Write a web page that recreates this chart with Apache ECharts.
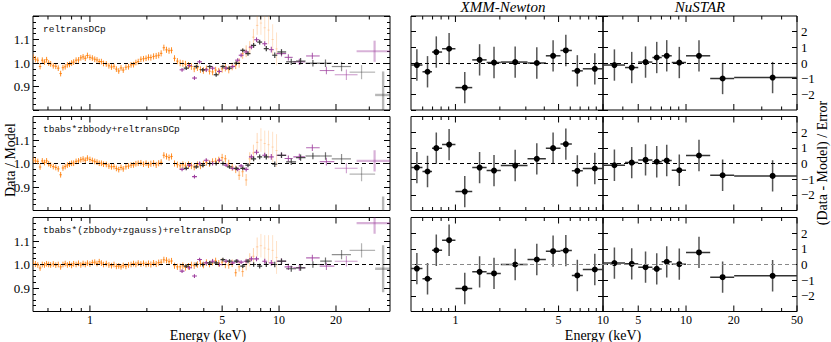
<!DOCTYPE html>
<html>
<head>
<meta charset="utf-8">
<script src="https://cdn.jsdelivr.net/npm/echarts@6.0.0/dist/echarts.min.js"></script>
<style>
  html, body { margin: 0; padding: 0; background: #fff; }
  #chart { width: 831px; height: 342px; }
</style>
</head>
<body>
<div id="chart"></div>
<script>
// XMM pn ratio data (energy keV, ratio per model, 1-sigma error)
var pnE = [0.50,0.515,0.53,0.545,0.56,0.575,0.59,0.605,0.62,0.64,
  0.66,0.68,0.70,0.72,0.74,0.76,0.78,0.80,0.82,0.845,
  0.87,0.895,0.92,0.945,0.97,1.00,1.03,1.06,1.09,1.12,
  1.15,1.18,1.22,1.26,1.30,1.34,1.38,1.42,1.46,1.50,
  1.55,1.60,1.65,1.70,1.75,1.80,1.86,1.92,1.98,2.04,
  2.10,2.17,2.24,2.31,2.38,2.46,2.54,2.62,2.70,2.80,
  2.90,3.00,3.10,3.20,3.32,3.44,3.56,3.70,3.84,3.98,
  4.13,4.29,4.45,4.62,4.80,5.00,5.20,5.42,5.65,5.90,
  6.15,6.42,6.70,7.00,7.32,7.66,8.02,8.40,8.80,9.25,
  9.70];
var pnErr = [0.013,0.013,0.012,0.012,0.012,0.012,0.012,0.012,0.012,0.012,
  0.012,0.012,0.012,0.012,0.012,0.012,0.012,0.012,0.012,0.012,
  0.012,0.012,0.012,0.012,0.012,0.012,0.012,0.012,0.012,0.012,
  0.012,0.012,0.012,0.012,0.012,0.012,0.012,0.012,0.012,0.012,
  0.012,0.012,0.012,0.012,0.012,0.012,0.012,0.012,0.012,0.013,
  0.013,0.013,0.013,0.013,0.013,0.013,0.013,0.013,0.013,0.013,
  0.013,0.014,0.014,0.014,0.014,0.014,0.014,0.014,0.014,0.014,
  0.014,0.014,0.014,0.014,0.014,0.016,0.016,0.016,0.016,0.016,
  0.020,0.022,0.025,0.028,0.035,0.040,0.050,0.055,0.060,0.065,
  0.070];
var pnRatio1 = [1.025,1.016,1.012,0.985,1.012,1.004,1.014,1.000,0.996,0.988,
  0.986,0.978,0.955,0.980,0.984,0.992,0.994,1.000,1.004,1.012,
  1.013,1.022,1.026,1.020,1.032,1.024,1.021,1.016,1.013,1.006,
  1.006,0.998,0.996,0.988,0.983,0.986,0.974,0.966,0.979,0.970,
  0.982,0.984,0.992,0.993,1.002,1.006,1.016,1.018,1.020,1.024,
  1.023,1.028,1.030,1.033,1.041,1.065,1.056,1.052,1.054,1.020,
  1.008,1.000,0.998,0.995,0.990,0.985,0.975,0.980,0.972,0.968,
  0.975,0.965,0.962,0.970,0.965,0.975,0.980,0.972,0.985,0.990,
  1.000,1.040,1.050,1.065,1.110,1.160,1.170,1.150,1.140,1.100,
  1.060];
var pnRatio2 = [1.015,1.011,1.009,0.985,1.011,1.004,1.011,0.999,0.993,0.987,
  0.983,0.977,0.952,0.981,0.987,0.993,0.997,1.001,1.001,1.009,
  1.011,1.016,1.019,1.014,1.023,1.017,1.013,1.009,1.006,1.001,
  1.001,0.997,0.996,0.989,0.986,0.987,0.979,0.974,0.983,0.977,
  0.986,0.989,0.993,0.994,0.999,1.001,1.003,0.997,1.001,0.994,
  0.999,1.001,0.994,1.001,1.005,1.035,1.030,1.025,1.030,1.000,
  0.995,0.990,0.995,0.990,0.995,0.990,0.985,0.995,0.990,0.998,
  1.005,1.000,1.008,1.010,1.015,1.025,1.020,1.000,0.985,0.975,
  0.950,0.965,0.930,1.020,1.045,1.090,1.100,1.085,1.080,1.070,
  1.055];
var pnRatio3 = [1.005,1.002,0.998,0.985,1.000,0.998,1.003,1.000,0.998,1.002,
  0.997,1.000,0.990,1.000,1.004,0.998,1.002,0.996,1.003,1.000,
  1.005,0.998,1.004,1.000,1.006,1.002,1.008,1.010,1.004,1.012,
  1.006,1.000,1.004,0.998,0.995,1.000,0.992,0.994,0.990,0.996,
  0.992,0.998,1.000,1.004,1.000,1.006,1.002,1.005,1.000,1.004,
  1.000,1.006,1.002,1.008,1.010,1.020,1.018,1.012,1.015,0.995,
  0.990,0.990,0.995,0.988,0.992,0.998,0.995,1.000,1.005,0.998,
  1.008,1.002,1.010,1.015,1.005,1.010,1.000,0.998,1.005,0.965,
  0.990,0.970,1.000,1.020,1.035,1.075,1.080,1.070,1.065,1.060,
  1.030];

// NuSTAR FPMA (purple)
var faE  = [3.07,3.36,3.57,3.80,4.12,4.45,4.84,5.25,5.69,6.04,6.30,6.70,7.14,7.60,8.40,9.10,10.3,11.2,12.8,15.0,17.8,22.7,32.0];
var faLo = [2.98,3.26,3.47,3.69,4.00,4.32,4.70,5.10,5.52,5.86,6.12,6.50,6.93,7.38,8.15,8.83,9.7,10.7,11.9,13.9,16.4,19.7,25.7];
var faHi = [3.16,3.46,3.68,3.91,4.24,4.58,4.98,5.40,5.86,6.22,6.49,6.90,7.35,7.83,8.65,9.37,10.9,11.8,13.7,16.4,19.6,26.0,40.0];
var faErr = [0.008,0.008,0.008,0.008,0.008,0.008,0.008,0.008,0.008,0.008,0.008,0.009,0.010,0.010,0.011,0.012,0.012,0.013,0.013,0.014,0.016,0.022,0.045];
var faRatio1 = [0.971,0.989,0.936,1.005,0.971,0.978,0.964,0.978,0.985,1.012,1.033,1.047,1.068,1.099,1.082,1.057,1.040,1.024,1.005,1.030,0.968,0.950,1.050];
var faRatio2 = [0.975,0.993,0.944,1.000,1.014,1.000,1.014,0.993,0.979,0.975,0.990,0.975,1.028,1.048,1.035,1.028,1.035,1.021,1.028,1.067,1.008,0.980,1.011];
var faRatio3 = [0.972,0.986,0.951,1.021,1.007,1.014,1.000,1.014,1.007,1.014,1.010,1.014,1.024,1.024,1.014,1.007,1.014,0.990,0.986,1.028,0.993,1.014,1.176];

// NuSTAR FPMB (grey)
var fbE  = [3.23,3.65,3.95,4.30,4.65,5.05,5.47,5.94,6.43,6.85,7.34,7.90,8.56,9.49,10.3,11.6,13.0,15.1,17.6,21.4,27.3,35.5];
var fbLo = [3.13,3.54,3.83,4.17,4.51,4.90,5.30,5.76,6.24,6.64,7.12,7.66,8.30,9.20,9.8,10.9,12.3,13.8,16.5,19.0,23.6,32.2];
var fbHi = [3.33,3.76,4.07,4.43,4.79,5.20,5.63,6.12,6.62,7.06,7.56,8.14,8.82,9.78,10.9,12.3,13.8,16.5,19.0,24.0,32.2,40.0];
var fbErr = [0.008,0.008,0.008,0.008,0.008,0.008,0.008,0.008,0.008,0.009,0.010,0.010,0.011,0.012,0.012,0.013,0.013,0.014,0.016,0.020,0.030,0.100];
var fbRatio1 = [0.978,0.985,0.971,0.985,0.950,0.985,0.978,0.999,1.054,1.040,1.075,1.089,1.061,1.033,1.047,1.005,1.008,0.999,0.999,0.985,0.961,0.864];
var fbRatio2 = [0.979,0.986,0.992,1.000,1.000,1.000,0.986,0.979,0.979,0.993,1.020,1.028,1.028,0.997,1.035,1.007,1.025,1.032,1.032,1.020,0.955,0.760];
var fbRatio3 = [0.993,1.000,1.000,1.007,1.007,1.021,1.014,1.014,0.993,1.014,1.000,0.993,1.000,1.000,1.014,0.982,0.986,1.000,1.014,1.042,1.060,0.982];

// residuals (Data - Model) / Error, re-binned
var xmmE  = [0.548,0.647,0.742,0.906,1.157,1.458,1.826,2.54,3.56,4.59,5.6,6.7,8.8];
var xmmLo = [0.5,0.598,0.694,0.812,1.0,1.3,1.627,2.03,3.08,4.1,5.15,6.15,7.3];
var xmmHi = [0.598,0.694,0.812,1.0,1.3,1.627,2.03,3.08,4.1,5.15,6.15,7.3,10.0];
var xmmRes1 = [-0.13,-0.56,0.70,0.91,-1.57,0.20,0.03,0.06,0.00,0.46,0.80,-0.50,-0.37];
var xmmRes2 = [-0.26,-0.51,0.98,1.21,-1.79,-0.26,-0.45,-0.13,0.30,0.98,1.24,-0.47,-0.32];
var xmmRes3 = [-0.26,-0.91,0.91,1.55,-1.53,-0.47,-0.57,0.00,0.32,0.85,0.89,-0.70,-0.32];

var nuE  = [3.54,4.55,5.56,6.54,7.56,9.07,12.07,17.0,35.1];
var nuLo = [3.0,4.13,5.0,6.14,7.03,8.13,10.0,14.2,20.1];
var nuHi = [4.13,5.0,6.14,7.03,8.13,10.0,14.2,20.1,50.0];
var nuRes1 = [-0.13,-0.29,0.06,0.35,0.46,0.03,0.46,-0.99,-0.93];
var nuRes2 = [-0.11,0.06,0.23,0.11,0.19,-0.43,0.51,-0.75,-0.79];
var nuRes3 = [0.09,0.04,-0.17,-0.28,0.17,0.02,0.77,-0.81,-0.72];
var resErr = 1.0;

// tick values
var leftMajor = [1, 5, 10, 20];
var leftMinor = [0.6, 0.7, 0.8, 0.9, 2, 3, 4, 6, 7, 8, 9, 30];
var xmmMajor = [1, 5, 10];
var xmmMinor = [0.6, 0.7, 0.8, 0.9, 2, 3, 4, 6, 7, 8, 9];
var nuMajor = [5, 10, 20, 50];
var nuMinor = [4, 6, 7, 8, 9, 30, 40];

var modelNames = ['reltransDCp', 'tbabs*zbbody+reltransDCp', 'tbabs*(zbbody+zgauss)+reltransDCp'];

var chart = echarts.init(document.getElementById('chart'), null, { renderer: 'svg' });
var serif = 'Liberation Serif';
var mono = 'Liberation Mono';

var pnRatio = [pnRatio1, pnRatio2, pnRatio3];
var faRatio = [faRatio1, faRatio2, faRatio3];
var fbRatio = [fbRatio1, fbRatio2, fbRatio3];
var xmmRes = [xmmRes1, xmmRes2, xmmRes3];
var nuRes = [nuRes1, nuRes2, nuRes3];

var rowTop = [16, 116.5, 217.5], rowH = 94;
var cols = [
  { left: 33, width: 357, min: 0.5, max: 38.6, major: leftMajor, minor: leftMinor },
  { left: 411, width: 192, min: 0.5, max: 10, major: xmmMajor, minor: xmmMinor },
  { left: 603, width: 194, min: 3, max: 50, major: nuMajor, minor: nuMinor }
];

// cross-shaped error bars, fainter (and a bit wider) when the error is large
function errBars(color, errRef, maxOp, minOp, width, wideErr) {
  return function (params, api) {
    var e = api.value(0), v = api.value(1), lo = api.value(2), hi = api.value(3), err = api.value(4);
    var a = api.coord([e, v + err]), b = api.coord([e, v - err]);
    var c = api.coord([lo, v]), d = api.coord([hi, v]);
    var op = Math.max(minOp, Math.min(maxOp, errRef / err));
    var w = (wideErr && err >= wideErr) ? width * 2 : width;
    var st = { stroke: color, lineWidth: w, opacity: op };
    return {
      type: 'group',
      children: [
        { type: 'line', shape: { x1: a[0], y1: a[1], x2: b[0], y2: b[1] }, style: st },
        { type: 'line', shape: { x1: c[0], y1: c[1], x2: d[0], y2: d[1] }, style: st }
      ]
    };
  };
}

function resItem(params, api) {
  var e = api.value(0), v = api.value(1), lo = api.value(2), hi = api.value(3), err = api.value(4);
  var a = api.coord([e, v + err]), b = api.coord([e, v - err]);
  var c = api.coord([lo, v]), d = api.coord([hi, v]);
  var p = api.coord([e, v]);
  return {
    type: 'group',
    children: [
      { type: 'line', shape: { x1: a[0], y1: a[1], x2: b[0], y2: b[1] }, style: { stroke: '#555', lineWidth: 1.5 } },
      { type: 'line', shape: { x1: c[0], y1: c[1], x2: d[0], y2: d[1] }, style: { stroke: '#333', lineWidth: 1.5 } },
      { type: 'circle', shape: { cx: p[0], cy: p[1], r: 3 }, style: { fill: '#000' } }
    ]
  };
}

function tickItem(showLabel) {
  return function (params, api) {
    var cs = params.coordSys;
    var x = api.coord([api.value(0), 1])[0];
    var major = api.value(1) === 1;
    var len = major ? 6 : 3.5;
    var yb = cs.y + cs.height;
    var kids = [
      { type: 'line', shape: { x1: x, y1: yb, x2: x, y2: yb - len }, style: { stroke: '#000', lineWidth: 1 } },
      { type: 'line', shape: { x1: x, y1: cs.y, x2: x, y2: cs.y + len }, style: { stroke: '#000', lineWidth: 1 } }
    ];
    if (showLabel && major) {
      kids.push({ type: 'text', x: x, y: yb + 2,
        style: { text: String(api.value(0)), fill: '#000', fontFamily: serif, fontSize: 12,
          align: 'center', verticalAlign: 'top' } });
    }
    return { type: 'group', children: kids };
  };
}

function dashLine(y, color) {
  return {
    silent: true, symbol: ['none', 'none'], label: { show: false },
    lineStyle: { color: color, type: [4, 3], width: 1 },
    data: [{ yAxis: y }]
  };
}

var grids = [], xAxes = [], yAxes = [], series = [];

for (var r = 0; r < 3; r++) {
  for (var c = 0; c < 3; c++) {
    var g = r * 3 + c;
    var col = cols[c];
    grids.push({ left: col.left, top: rowTop[r], width: col.width, height: rowH,
      show: true, borderColor: '#000', borderWidth: 1, backgroundColor: 'transparent' });
    xAxes.push({ type: 'log', logBase: 10, gridIndex: g, min: col.min, max: col.max,
      axisLine: { show: false }, axisTick: { show: false }, axisLabel: { show: false },
      splitLine: { show: false } });

    ['left', 'right'].forEach(function (side) {
      if (c === 0) {
        yAxes.push({ type: 'value', gridIndex: g, position: side, min: 0.8, max: 1.2, interval: 0.1,
          axisLine: { show: false }, splitLine: { show: false },
          axisTick: { inside: true, length: 6, lineStyle: { color: '#000' } },
          minorTick: { show: true, splitNumber: 4, length: 3, lineStyle: { color: '#000' } },
          minorSplitLine: { show: false },
          axisLabel: { show: side === 'left', showMinLabel: false, showMaxLabel: false, margin: 3,
            fontFamily: serif, fontSize: 13, color: '#000',
            formatter: function (v) { return v.toFixed(1); } } });
      } else {
        yAxes.push({ type: 'value', gridIndex: g, position: side, min: -3, max: 3, interval: 1,
          axisLine: { show: false }, splitLine: { show: false },
          axisTick: { inside: true, length: 5, lineStyle: { color: '#000' } },
          axisLabel: { show: c === 2 && side === 'right', showMinLabel: false, showMaxLabel: false, margin: 4,
            fontFamily: serif, fontSize: 13, color: '#000',
            formatter: function (v) { return v < 0 ? '\u2212' + Math.abs(v) : String(v); } } });
      }
    });

    var ticks = col.major.map(function (v) { return [v, 1]; })
      .concat(col.minor.map(function (v) { return [v, 0]; }));
    series.push({ type: 'custom', xAxisIndex: g, yAxisIndex: 2 * g, clip: false, silent: true,
      renderItem: tickItem(r === 2), data: ticks, z: 5 });

    if (c === 0) {
      var pr = pnRatio[r], ar = faRatio[r], br = fbRatio[r];
      series.push({ type: 'custom', xAxisIndex: g, yAxisIndex: 2 * g, clip: true,
        renderItem: errBars('#ff7a00', 0.011, 0.85, 0.22, 1, 0),
        data: pnE.map(function (e, i) { return [e, pr[i], e * 0.985, e * 1.015, pnErr[i]]; }),
        markLine: dashLine(1, '#000') });
      series.push({ type: 'custom', xAxisIndex: g, yAxisIndex: 2 * g, clip: true,
        renderItem: errBars('#9e3e9e', 0.011, 1, 0.4, 1.1, 0.04),
        data: faE.map(function (e, i) { return [e, ar[i], faLo[i], faHi[i], faErr[i]]; }) });
      series.push({ type: 'custom', xAxisIndex: g, yAxisIndex: 2 * g, clip: true,
        renderItem: errBars('#333333', 0.011, 1, 0.35, 1.2, 0.05),
        data: fbE.map(function (e, i) { return [e, br[i], fbLo[i], fbHi[i], fbErr[i]]; }) });
    } else {
      var E = c === 1 ? xmmE : nuE, lo = c === 1 ? xmmLo : nuLo, hi = c === 1 ? xmmHi : nuHi;
      var res = c === 1 ? xmmRes[r] : nuRes[r];
      series.push({ type: 'custom', xAxisIndex: g, yAxisIndex: 2 * g, clip: true,
        renderItem: resItem,
        data: E.map(function (e, i) { return [e, res[i], lo[i], hi[i], resErr]; }),
        markLine: dashLine(0, r === 2 ? '#888' : '#000') });
    }
  }
}

function label(t, x, y, opts) {
  var st = { text: t, fill: '#000', fontFamily: serif, fontSize: 14, align: 'center', verticalAlign: 'middle' };
  for (var k in opts) st[k] = opts[k];
  return { type: 'text', x: x, y: y, style: st };
}

var graphics = modelNames.map(function (t, i) {
  return { type: 'text', x: 43, y: rowTop[i] + 13,
    style: { text: t, fill: '#111', fontFamily: mono, fontSize: 9.5, verticalAlign: 'middle' } };
});
graphics.push(
  label('XMM-Newton', 503, 7, { fontStyle: 'italic', fontSize: 15 }),
  label('NuSTAR', 700, 7, { fontStyle: 'italic', fontSize: 15 }),
  label('Energy (keV)', 208, 335, {}),
  label('Energy (keV)', 603, 335, {})
);
var dm = label('Data / Model', 10, 160, {});
dm.rotation = Math.PI / 2;
var dme = label('(Data - Model) / Error', 822, 163, {});
dme.rotation = Math.PI / 2;
graphics.push(dm, dme);

var option = {
  animation: false,
  backgroundColor: '#fff',
  grid: grids,
  xAxis: xAxes,
  yAxis: yAxes,
  graphic: graphics,
  series: series
};
chart.setOption(option);
</script>
</body>
</html>
